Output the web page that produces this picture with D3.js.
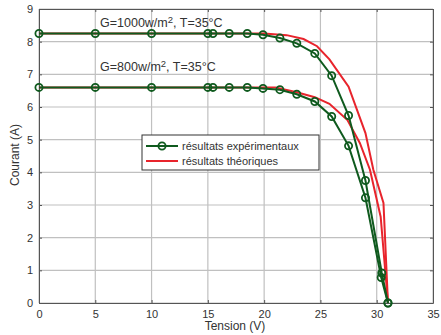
<!DOCTYPE html>
<html>
<head>
<meta charset="utf-8">
<script src="https://cdn.jsdelivr.net/npm/d3@7"></script>
<style>
body{margin:0;background:#fff;}
text{font-family:Arial,"Liberation Sans",sans-serif;fill:#333;}
</style>
</head>
<body>
<svg id="chart" width="441" height="335"></svg>
<script>
// tick values
var xTicks = [0,5,10,15,20,25,30,35],
	yTicks = [0,1,2,3,4,5,6,7,8,9];

// experimental points (V, A)
var expV = [0,5,10,15,15.45,16.9,18.5,19.9,21.4,22.9,24.5,26.0,27.5,29.0,30.45,31.0];
var exp1000 = [8.25,8.25,8.25,8.25,8.25,8.25,8.25,8.21,8.11,7.95,7.64,6.96,5.74,3.75,0.92,0];
var expV800 = [0,5,10,15,15.45,16.9,18.5,19.9,21.4,22.9,24.5,26.0,27.5,29.0,30.4,31.0];
var exp800 = [6.6,6.6,6.6,6.6,6.6,6.6,6.6,6.57,6.53,6.39,6.17,5.71,4.81,3.22,0.78,0];

// theoretical curves
var thV1000 = [0,20,22,23.5,24.7,25.8,27.5,29.0,29.7,30.6,31.0];
var th1000 = [8.25,8.25,8.2,8.08,7.86,7.46,6.62,5.2,4.08,3.06,0];
var thV800 = [0,21,22.9,24.5,25.8,27.4,28.5,29.4,30.35,31.0];
var th800 = [6.6,6.6,6.45,6.3,6.1,5.6,4.9,4.08,2.64,0];

var GREEN = '#0f5a1e', RED = '#e8242c';

var m = {t:9,r:8,b:32,l:39},
	W = 441, H = 335,
	w = W - m.l - m.r,
	h = H - m.t - m.b;

var svg = d3.select('#chart');
var plot = svg.append('g').attr('transform','translate('+m.l+','+m.t+')');

var scaleX = d3.scaleLinear().domain([0,35]).range([0,w]),
	scaleY = d3.scaleLinear().domain([0,9]).range([h,0]);

// grid
plot.append('g').selectAll('line').data(xTicks).enter().append('line')
	.attr('x1',function(d){return scaleX(d)}).attr('x2',function(d){return scaleX(d)})
	.attr('y1',0).attr('y2',h)
	.attr('stroke','#c0c0c0').attr('stroke-width',1.2);
plot.append('g').selectAll('line').data(yTicks).enter().append('line')
	.attr('y1',function(d){return scaleY(d)}).attr('y2',function(d){return scaleY(d)})
	.attr('x1',0).attr('x2',w)
	.attr('stroke','#c0c0c0').attr('stroke-width',1.2);

// axes (matlab style: ticks inside)
var xAxis = d3.axisBottom(scaleX).tickValues(xTicks).tickSizeInner(-3).tickSizeOuter(0).tickPadding(7),
	yAxis = d3.axisLeft(scaleY).tickValues(yTicks).tickSizeInner(-3).tickSizeOuter(0).tickPadding(6);
var gx = plot.append('g').attr('transform','translate(0,'+h+')').call(xAxis);
var gy = plot.append('g').call(yAxis);
plot.append('g').call(d3.axisTop(scaleX).tickValues(xTicks).tickSizeInner(-3).tickSizeOuter(0).tickFormat(''));
plot.append('g').attr('transform','translate('+w+',0)')
	.call(d3.axisRight(scaleY).tickValues(yTicks).tickSizeInner(-3).tickSizeOuter(0).tickFormat(''));
plot.selectAll('.domain').attr('stroke','#555');
plot.selectAll('.tick line').attr('stroke','#555');
plot.selectAll('.tick text').style('font-size','11px').attr('fill','#333');

// lines
var line = d3.line()
	.x(function(d){return scaleX(d[0])})
	.y(function(d){return scaleY(d[1])});

function zip(a,b){ return a.map(function(v,i){return [v,b[i]]}); }

var theo = [zip(thV1000,th1000), zip(thV800,th800)],
	expe = [zip(expV,exp1000), zip(expV800,exp800)];

plot.selectAll('.theo').data(theo).enter().append('path').attr('class','theo')
	.attr('d',line).attr('fill','none').attr('stroke',RED).attr('stroke-width',2);
plot.selectAll('.expe').data(expe).enter().append('path').attr('class','expe')
	.attr('d',line).attr('fill','none').attr('stroke',GREEN).attr('stroke-width',2);

expe.forEach(function(series){
	plot.append('g').selectAll('circle').data(series).enter().append('circle')
		.attr('cx',function(d){return scaleX(d[0])})
		.attr('cy',function(d){return scaleY(d[1])})
		.attr('r',3.6)
		.attr('fill','none').attr('stroke',GREEN).attr('stroke-width',1.8);
});

// annotations
function annot(txt,sup,rest,x,y){
	var t = svg.append('text').attr('x',x).attr('y',y).style('font-size','12.5px');
	t.append('tspan').text(txt);
	t.append('tspan').attr('dy',-4).style('font-size','9.5px').text(sup);
	t.append('tspan').attr('dy',4).text(rest);
}
annot('G=1000w/m','2',', T=35°C',100,27);
annot('G=800w/m','2',', T=35°C',100,71);

// legend
var lg = svg.append('g');
lg.append('rect').attr('x',142).attr('y',135).attr('width',177).attr('height',35)
	.attr('fill','#fff').attr('stroke','#333').attr('stroke-width',1);
lg.append('line').attr('x1',146).attr('x2',178).attr('y1',146).attr('y2',146)
	.attr('stroke',GREEN).attr('stroke-width',2);
lg.append('circle').attr('cx',162).attr('cy',146).attr('r',3.6)
	.attr('fill','none').attr('stroke',GREEN).attr('stroke-width',1.8);
lg.append('line').attr('x1',146).attr('x2',178).attr('y1',161).attr('y2',161)
	.attr('stroke',RED).attr('stroke-width',2);
lg.append('text').attr('x',182).attr('y',150).style('font-size','11px').text('résultats expérimentaux');
lg.append('text').attr('x',182).attr('y',165).style('font-size','11px').text('résultats théoriques');

// axis titles
svg.append('text').attr('x',235).attr('y',330).attr('text-anchor','middle')
	.style('font-size','12px').text('Tension (V)');
svg.append('text').attr('transform','translate(19,155) rotate(-90)').attr('text-anchor','middle')
	.style('font-size','12px').text('Courant (A)');
</script>
</body>
</html>
